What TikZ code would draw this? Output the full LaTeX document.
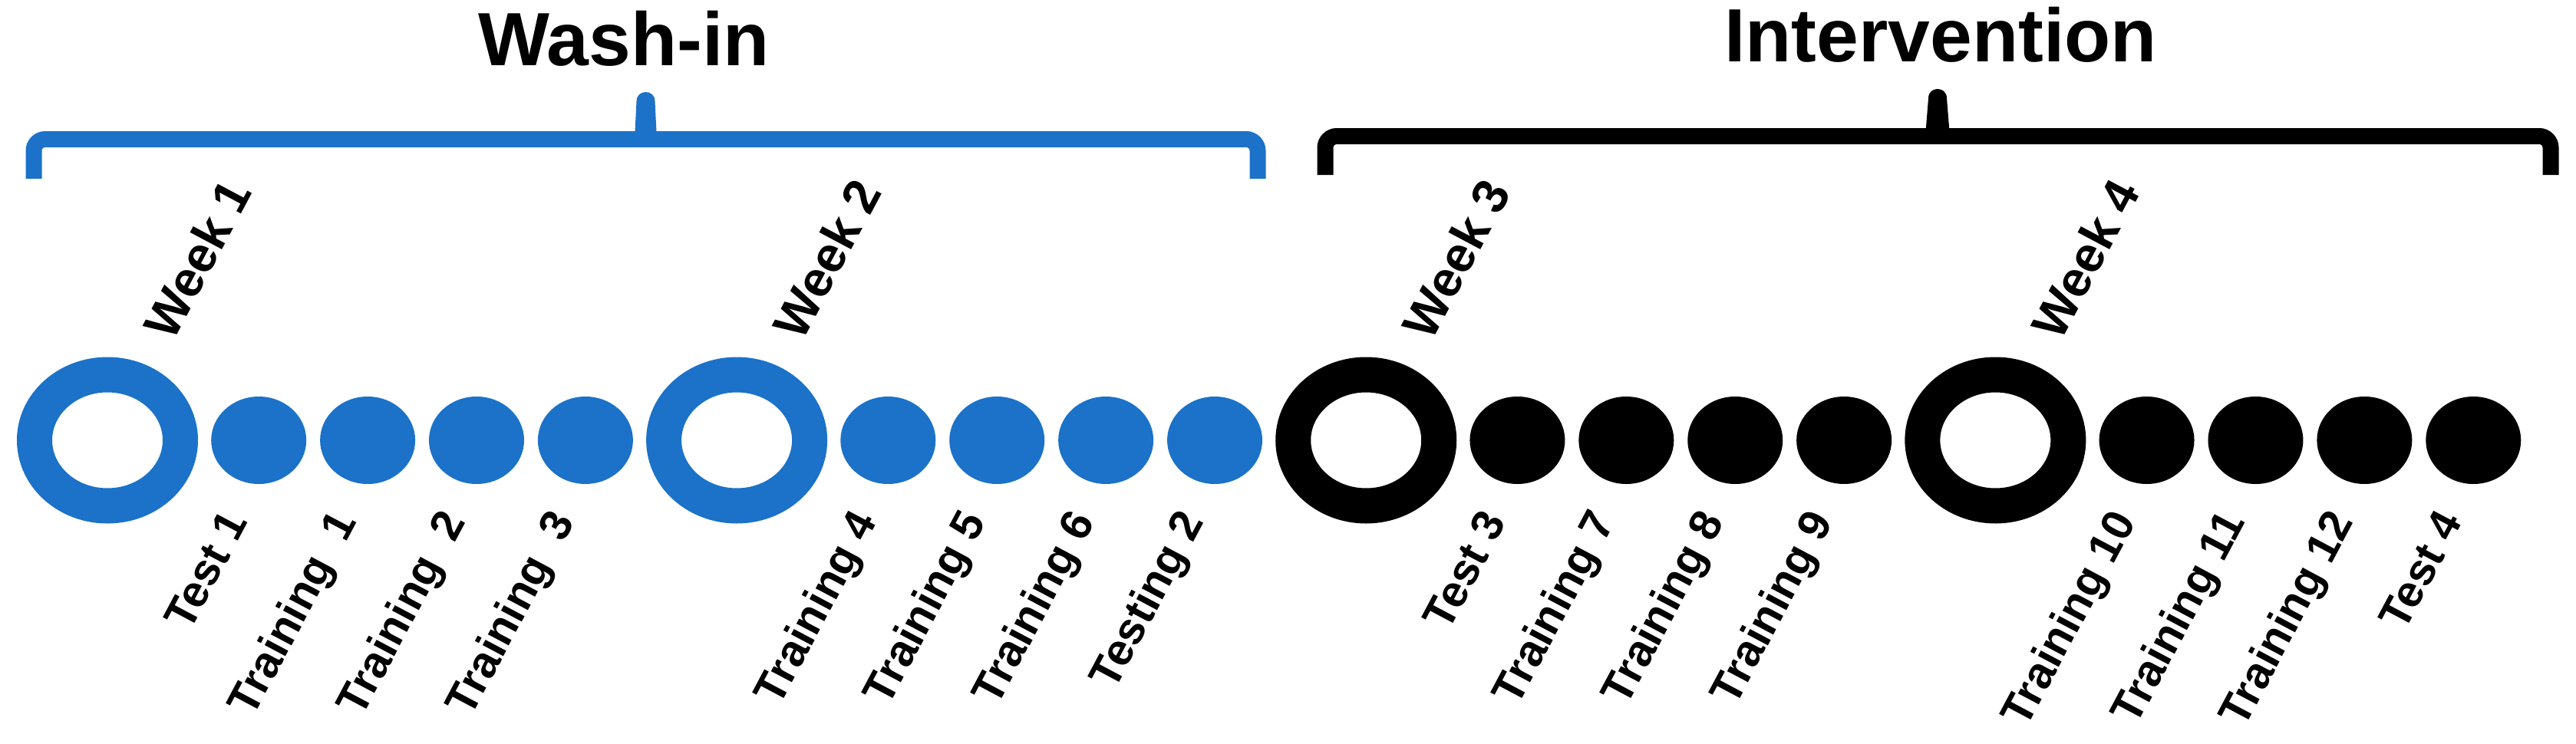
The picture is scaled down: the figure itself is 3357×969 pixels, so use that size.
\documentclass[tikz,border=0pt]{standalone}
\usepackage{fontspec}
\setmainfont{Liberation Sans}
\usepackage{tikz}
\usetikzlibrary{shapes.geometric,positioning}
\definecolor{washBlue}{RGB}{27,114,200}
\definecolor{interDark}{gray}{0.00}

\begin{document}
\begin{tikzpicture}[x=0.1mm, y=-0.1mm,
      ring/.style={ellipse, draw, line width=4.6mm, minimum width=19mm,
                   minimum height=17.1mm, inner sep=0pt},
      spot/.style={ellipse, fill, minimum width=12.4mm, minimum height=11.4mm,
                   inner sep=0pt},
      sesslabel/.style={rotate=62, anchor=base east, inner sep=0pt,
                   font=\fontsize{16.5}{19}\selectfont\bfseries},
      weeklabel/.style={rotate=62, anchor=base west, inner sep=0pt,
                   font=\fontsize{18.5}{22}\selectfont\bfseries},
      phaselabel/.style={anchor=base, inner sep=0pt,
                   font=\fontsize{28}{32}\selectfont\bfseries},
      bracket/.style={line width=2.1mm, rounded corners=1.5mm},
      node distance=1.65mm]

    \useasboundingbox (0,0) rectangle (3357,969);

    % wash-in weeks
    \node[ring, washBlue] (r1) at (140,574) {};
    \node[spot, washBlue, right=of r1] (d11) {};
    \node[spot, washBlue, right=of d11] (d12) {};
    \node[spot, washBlue, right=of d12] (d13) {};
    \node[spot, washBlue, right=of d13] (d14) {};
    \node[ring, washBlue, right=of d14] (r2) {};
    \node[spot, washBlue, right=of r2] (d21) {};
    \node[spot, washBlue, right=of d21] (d22) {};
    \node[spot, washBlue, right=of d22] (d23) {};
    \node[spot, washBlue, right=of d23] (d24) {};

    % intervention weeks
    \node[ring, interDark, right=of d24] (r3) {};
    \node[spot, interDark, right=of r3] (d31) {};
    \node[spot, interDark, right=of d31] (d32) {};
    \node[spot, interDark, right=of d32] (d33) {};
    \node[spot, interDark, right=of d33] (d34) {};
    \node[ring, interDark, right=of d34] (r4) {};
    \node[spot, interDark, right=of r4] (d41) {};
    \node[spot, interDark, right=of d41] (d42) {};
    \node[spot, interDark, right=of d42] (d43) {};
    \node[spot, interDark, right=of d43] (d44) {};

    \node[weeklabel] (w1) at ([xshift=8.5mm, yshift=1.8mm]r1.north) {Week 1};
    \node[weeklabel] (w2) at ([xshift=8.5mm, yshift=1.8mm]r2.north) {Week 2};
    \node[weeklabel] (w3) at ([xshift=8.5mm, yshift=1.8mm]r3.north) {Week 3};
    \node[weeklabel] (w4) at ([xshift=8.5mm, yshift=1.8mm]r4.north) {Week 4};

    \node[sesslabel] (l11) at ([xshift=-1.3mm, yshift=-4.8mm]d11.south) {Test 1};
    \node[sesslabel] (l12) at ([xshift=-1.3mm, yshift=-4.8mm]d12.south) {Training\ \ 1};
    \node[sesslabel] (l13) at ([xshift=-1.3mm, yshift=-4.8mm]d13.south) {Training\ \ 2};
    \node[sesslabel] (l14) at ([xshift=-1.3mm, yshift=-4.8mm]d14.south) {Training\ \ 3};
    \node[sesslabel] (l21) at ([xshift=-1.3mm, yshift=-4.8mm]d21.south) {Training 4};
    \node[sesslabel] (l22) at ([xshift=-1.3mm, yshift=-4.8mm]d22.south) {Training 5};
    \node[sesslabel] (l23) at ([xshift=-1.3mm, yshift=-4.8mm]d23.south) {Training 6};
    \node[sesslabel] (l24) at ([xshift=-1.3mm, yshift=-4.8mm]d24.south) {Testing 2};
    \node[sesslabel] (l31) at ([xshift=-1.3mm, yshift=-4.8mm]d31.south) {Test 3};
    \node[sesslabel] (l32) at ([xshift=-1.3mm, yshift=-4.8mm]d32.south) {Training 7};
    \node[sesslabel] (l33) at ([xshift=-1.3mm, yshift=-4.8mm]d33.south) {Training 8};
    \node[sesslabel] (l34) at ([xshift=-1.3mm, yshift=-4.8mm]d34.south) {Training 9};
    \node[sesslabel] (l41) at ([xshift=-1.3mm, yshift=-4.8mm]d41.south) {Training 10};
    \node[sesslabel] (l42) at ([xshift=-1.3mm, yshift=-4.8mm]d42.south) {Training 11};
    \node[sesslabel] (l43) at ([xshift=-1.3mm, yshift=-4.8mm]d43.south) {Training 12};
    \node[sesslabel] (l44) at ([xshift=-1.3mm, yshift=-4.8mm]d44.south) {Test 4};

    % braces and phase titles
    \draw[bracket, washBlue] (44,233) -- (44,181.5) -- (1639,181.5) -- (1639,233);
    \fill[washBlue] (827,182) -- (829.5,132) .. controls (829.5,116) and (853.5,116)
      .. (853.5,132) -- (856,182) -- cycle;
    \draw[bracket, interDark] (1727,228) -- (1727,177.5) -- (3324,177.5) -- (3324,228);
    \fill[interDark] (2509,178) -- (2513,128) .. controls (2513,112) and (2537,112)
      .. (2537,128) -- (2541,178) -- cycle;

    \node[phaselabel] (washin) at (813,85) {Wash-in};
    \node[phaselabel] (interv) at (2529,80) {Intervention};
  \end{tikzpicture}
\end{document}
